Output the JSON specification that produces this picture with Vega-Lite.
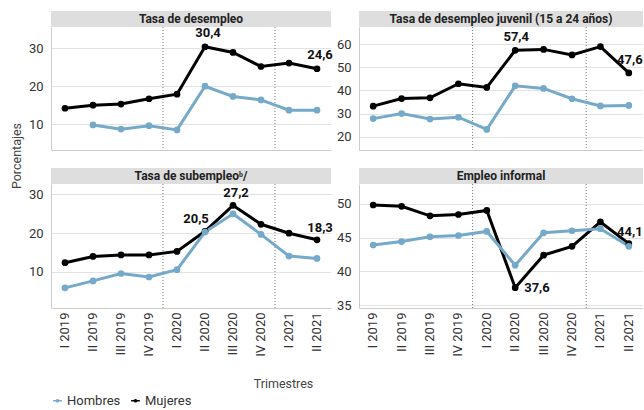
{
  "$schema": "https://vega.github.io/schema/vega-lite/v6.json",
  "padding": {"left": 10, "top": 11, "right": 0, "bottom": 0},
  "background": "white",
  "title": {"text": "Porcentajes", "orient": "left", "anchor": "end", "dx": -112, "fontSize": 12.5, "fontWeight": "normal", "color": "#444444", "font": "Roboto", "offset": 3},
  "config": {
    "font": "Roboto",
    "view": {"stroke": null},
    "axis": {"labelFont": "Roboto", "labelFontSize": 13, "labelColor": "#333333", "gridColor": "#e2e2e2", "domainColor": "#cccccc", "ticks": false, "titleFont": "Roboto", "titleFontSize": 12.5, "titleFontWeight": "normal", "titleColor": "#444444"},
    "axisY": {"minExtent": 25, "maxExtent": 25, "labelPadding": 8, "labelOverlap": false},
    "legend": {"orient": "bottom", "direction": "horizontal", "offset": 4, "labelFont": "Roboto", "labelFontSize": 13, "labelColor": "#333333", "symbolType": "M-1,-0.16H1V0.16H-1Z M0.42,0A0.42,0.42,0,1,1,-0.42,0A0.42,0.42,0,1,1,0.42,0Z", "symbolStrokeWidth": 0, "symbolSize": 75, "columnPadding": 8, "labelOffset": 3}
  },
  "datasets": {
    "cortes": [{"trimestre": "I 2020"}, {"trimestre": "I 2021"}],
    "series": [
      {"panel": "desempleo", "sexo": "Mujeres", "trimestre": "I 2019", "valor": 14.2},
      {"panel": "desempleo", "sexo": "Mujeres", "trimestre": "II 2019", "valor": 15.0},
      {"panel": "desempleo", "sexo": "Mujeres", "trimestre": "III 2019", "valor": 15.3},
      {"panel": "desempleo", "sexo": "Mujeres", "trimestre": "IV 2019", "valor": 16.7},
      {"panel": "desempleo", "sexo": "Mujeres", "trimestre": "I 2020", "valor": 17.9},
      {"panel": "desempleo", "sexo": "Mujeres", "trimestre": "II 2020", "valor": 30.4, "etiqueta": "30,4"},
      {"panel": "desempleo", "sexo": "Mujeres", "trimestre": "III 2020", "valor": 28.9},
      {"panel": "desempleo", "sexo": "Mujeres", "trimestre": "IV 2020", "valor": 25.2},
      {"panel": "desempleo", "sexo": "Mujeres", "trimestre": "I 2021", "valor": 26.1},
      {"panel": "desempleo", "sexo": "Mujeres", "trimestre": "II 2021", "valor": 24.6, "etiqueta": "24,6"},
      {"panel": "desempleo", "sexo": "Hombres", "trimestre": "II 2019", "valor": 9.8},
      {"panel": "desempleo", "sexo": "Hombres", "trimestre": "III 2019", "valor": 8.7},
      {"panel": "desempleo", "sexo": "Hombres", "trimestre": "IV 2019", "valor": 9.6},
      {"panel": "desempleo", "sexo": "Hombres", "trimestre": "I 2020", "valor": 8.5},
      {"panel": "desempleo", "sexo": "Hombres", "trimestre": "II 2020", "valor": 20.0},
      {"panel": "desempleo", "sexo": "Hombres", "trimestre": "III 2020", "valor": 17.3},
      {"panel": "desempleo", "sexo": "Hombres", "trimestre": "IV 2020", "valor": 16.4},
      {"panel": "desempleo", "sexo": "Hombres", "trimestre": "I 2021", "valor": 13.7},
      {"panel": "desempleo", "sexo": "Hombres", "trimestre": "II 2021", "valor": 13.7},
      {"panel": "juvenil", "sexo": "Mujeres", "trimestre": "I 2019", "valor": 33.2},
      {"panel": "juvenil", "sexo": "Mujeres", "trimestre": "II 2019", "valor": 36.5},
      {"panel": "juvenil", "sexo": "Mujeres", "trimestre": "III 2019", "valor": 36.8},
      {"panel": "juvenil", "sexo": "Mujeres", "trimestre": "IV 2019", "valor": 42.9},
      {"panel": "juvenil", "sexo": "Mujeres", "trimestre": "I 2020", "valor": 41.3},
      {"panel": "juvenil", "sexo": "Mujeres", "trimestre": "II 2020", "valor": 57.4, "etiqueta": "57,4"},
      {"panel": "juvenil", "sexo": "Mujeres", "trimestre": "III 2020", "valor": 57.8},
      {"panel": "juvenil", "sexo": "Mujeres", "trimestre": "IV 2020", "valor": 55.4},
      {"panel": "juvenil", "sexo": "Mujeres", "trimestre": "I 2021", "valor": 59.0},
      {"panel": "juvenil", "sexo": "Mujeres", "trimestre": "II 2021", "valor": 47.6, "etiqueta": "47,6"},
      {"panel": "juvenil", "sexo": "Hombres", "trimestre": "I 2019", "valor": 27.8},
      {"panel": "juvenil", "sexo": "Hombres", "trimestre": "II 2019", "valor": 30.0},
      {"panel": "juvenil", "sexo": "Hombres", "trimestre": "III 2019", "valor": 27.6},
      {"panel": "juvenil", "sexo": "Hombres", "trimestre": "IV 2019", "valor": 28.4},
      {"panel": "juvenil", "sexo": "Hombres", "trimestre": "I 2020", "valor": 23.1},
      {"panel": "juvenil", "sexo": "Hombres", "trimestre": "II 2020", "valor": 42.0},
      {"panel": "juvenil", "sexo": "Hombres", "trimestre": "III 2020", "valor": 40.9},
      {"panel": "juvenil", "sexo": "Hombres", "trimestre": "IV 2020", "valor": 36.4},
      {"panel": "juvenil", "sexo": "Hombres", "trimestre": "I 2021", "valor": 33.3},
      {"panel": "juvenil", "sexo": "Hombres", "trimestre": "II 2021", "valor": 33.5},
      {"panel": "subempleo", "sexo": "Mujeres", "trimestre": "I 2019", "valor": 12.4},
      {"panel": "subempleo", "sexo": "Mujeres", "trimestre": "II 2019", "valor": 14.0},
      {"panel": "subempleo", "sexo": "Mujeres", "trimestre": "III 2019", "valor": 14.4},
      {"panel": "subempleo", "sexo": "Mujeres", "trimestre": "IV 2019", "valor": 14.4},
      {"panel": "subempleo", "sexo": "Mujeres", "trimestre": "I 2020", "valor": 15.3},
      {"panel": "subempleo", "sexo": "Mujeres", "trimestre": "II 2020", "valor": 20.5, "etiqueta": "20,5"},
      {"panel": "subempleo", "sexo": "Mujeres", "trimestre": "III 2020", "valor": 27.2, "etiqueta": "27,2"},
      {"panel": "subempleo", "sexo": "Mujeres", "trimestre": "IV 2020", "valor": 22.3},
      {"panel": "subempleo", "sexo": "Mujeres", "trimestre": "I 2021", "valor": 20.0},
      {"panel": "subempleo", "sexo": "Mujeres", "trimestre": "II 2021", "valor": 18.3, "etiqueta": "18,3"},
      {"panel": "subempleo", "sexo": "Hombres", "trimestre": "I 2019", "valor": 5.9},
      {"panel": "subempleo", "sexo": "Hombres", "trimestre": "II 2019", "valor": 7.7},
      {"panel": "subempleo", "sexo": "Hombres", "trimestre": "III 2019", "valor": 9.6},
      {"panel": "subempleo", "sexo": "Hombres", "trimestre": "IV 2019", "valor": 8.7},
      {"panel": "subempleo", "sexo": "Hombres", "trimestre": "I 2020", "valor": 10.6},
      {"panel": "subempleo", "sexo": "Hombres", "trimestre": "II 2020", "valor": 20.3},
      {"panel": "subempleo", "sexo": "Hombres", "trimestre": "III 2020", "valor": 25.0},
      {"panel": "subempleo", "sexo": "Hombres", "trimestre": "IV 2020", "valor": 19.7},
      {"panel": "subempleo", "sexo": "Hombres", "trimestre": "I 2021", "valor": 14.1},
      {"panel": "subempleo", "sexo": "Hombres", "trimestre": "II 2021", "valor": 13.5},
      {"panel": "informal", "sexo": "Mujeres", "trimestre": "I 2019", "valor": 49.8},
      {"panel": "informal", "sexo": "Mujeres", "trimestre": "II 2019", "valor": 49.6},
      {"panel": "informal", "sexo": "Mujeres", "trimestre": "III 2019", "valor": 48.2},
      {"panel": "informal", "sexo": "Mujeres", "trimestre": "IV 2019", "valor": 48.4},
      {"panel": "informal", "sexo": "Mujeres", "trimestre": "I 2020", "valor": 49.0},
      {"panel": "informal", "sexo": "Mujeres", "trimestre": "II 2020", "valor": 37.6, "etiqueta": "37,6"},
      {"panel": "informal", "sexo": "Mujeres", "trimestre": "III 2020", "valor": 42.4},
      {"panel": "informal", "sexo": "Mujeres", "trimestre": "IV 2020", "valor": 43.7},
      {"panel": "informal", "sexo": "Mujeres", "trimestre": "I 2021", "valor": 47.3},
      {"panel": "informal", "sexo": "Mujeres", "trimestre": "II 2021", "valor": 44.1, "etiqueta": "44,1"},
      {"panel": "informal", "sexo": "Hombres", "trimestre": "I 2019", "valor": 43.9},
      {"panel": "informal", "sexo": "Hombres", "trimestre": "II 2019", "valor": 44.4},
      {"panel": "informal", "sexo": "Hombres", "trimestre": "III 2019", "valor": 45.1},
      {"panel": "informal", "sexo": "Hombres", "trimestre": "IV 2019", "valor": 45.3},
      {"panel": "informal", "sexo": "Hombres", "trimestre": "I 2020", "valor": 45.9},
      {"panel": "informal", "sexo": "Hombres", "trimestre": "II 2020", "valor": 40.9},
      {"panel": "informal", "sexo": "Hombres", "trimestre": "III 2020", "valor": 45.7},
      {"panel": "informal", "sexo": "Hombres", "trimestre": "IV 2020", "valor": 46.0},
      {"panel": "informal", "sexo": "Hombres", "trimestre": "I 2021", "valor": 46.3},
      {"panel": "informal", "sexo": "Hombres", "trimestre": "II 2021", "valor": 43.7}
    ]
  },
  "columns": 2,
  "spacing": {"row": 17, "column": 1},
  "concat": [
    {
      "bounds": "flush",
      "spacing": 0,
      "vconcat": [
        {"data": {"values": [{"titulo": "Tasa de desempleo"}]}, "width": 280, "height": 16, "view": {"fill": "#dedede", "stroke": null}, "mark": {"type": "text", "fontWeight": "bold", "fontSize": 12, "color": "#222222"}, "encoding": {"text": {"field": "titulo"}}},
        {
          "width": 280, "height": 123,
          "layer": [
            {"data": {"name": "cortes"}, "mark": {"type": "rule", "strokeDash": [1, 2], "color": "#777777", "strokeWidth": 1},
             "encoding": {"x": {"field": "trimestre", "type": "ordinal", "bandPosition": 0, "sort": null, "scale": {"type": "band", "paddingInner": 0, "paddingOuter": 0, "domain": ["I 2019","II 2019","III 2019","IV 2019","I 2020","II 2020","III 2020","IV 2020","I 2021","II 2021"]}, "axis": {"labels": false, "title": null, "grid": false}}}},
            {"data": {"name": "series"}, "transform": [{"filter": "datum.panel == 'desempleo'"}],
             "mark": {"type": "line", "strokeWidth": 3, "point": {"filled": true, "size": 45}},
             "encoding": {
               "x": {"field": "trimestre", "type": "ordinal", "bandPosition": 0.5, "sort": null, "scale": {"type": "band", "paddingInner": 0, "paddingOuter": 0, "domain": ["I 2019","II 2019","III 2019","IV 2019","I 2020","II 2020","III 2020","IV 2020","I 2021","II 2021"]}, "axis": {"labels": false, "title": null, "grid": false}},
               "y": {"field": "valor", "type": "quantitative", "scale": {"domain": [3.2, 35.6], "nice": false, "zero": false}, "axis": {"values": [10, 20, 30], "title": null}},
               "color": {"field": "sexo", "type": "nominal", "scale": {"domain": ["Hombres", "Mujeres"], "range": ["#74a9c9", "#000000"]}, "legend": {"title": null, "encode": {"symbols": {"update": {"fill": {"scale": "color", "field": "value"}}}}}}
             }},
            {"data": {"name": "series"}, "transform": [{"filter": "datum.panel == 'desempleo' && isValid(datum.etiqueta)"}],
             "mark": {"type": "text", "fontWeight": "bold", "fontSize": 13, "dy": -10, "dx": 3, "baseline": "alphabetic", "color": "#111111"},
             "encoding": {"x": {"field": "trimestre", "type": "ordinal", "bandPosition": 0.5}, "y": {"field": "valor", "type": "quantitative", "axis": {"values": [10, 20, 30], "title": null}}, "text": {"field": "etiqueta"}}}
          ]
        }
      ]
    },
    {
      "bounds": "flush",
      "spacing": 0,
      "vconcat": [
        {"data": {"values": [{"titulo": "Tasa de desempleo juvenil (15 a 24 años)"}]}, "width": 284, "height": 16, "view": {"fill": "#dedede", "stroke": null}, "mark": {"type": "text", "fontWeight": "bold", "fontSize": 12, "color": "#222222"}, "encoding": {"text": {"field": "titulo"}}},
        {
          "width": 284, "height": 123,
          "layer": [
            {"data": {"name": "cortes"}, "mark": {"type": "rule", "strokeDash": [1, 2], "color": "#777777", "strokeWidth": 1},
             "encoding": {"x": {"field": "trimestre", "type": "ordinal", "bandPosition": 0, "sort": null, "scale": {"type": "band", "paddingInner": 0, "paddingOuter": 0, "domain": ["I 2019","II 2019","III 2019","IV 2019","I 2020","II 2020","III 2020","IV 2020","I 2021","II 2021"]}, "axis": {"labels": false, "title": null, "grid": false}}}},
            {"data": {"name": "series"}, "transform": [{"filter": "datum.panel == 'juvenil'"}],
             "mark": {"type": "line", "strokeWidth": 3, "point": {"filled": true, "size": 45}},
             "encoding": {
               "x": {"field": "trimestre", "type": "ordinal", "bandPosition": 0.5, "sort": null, "scale": {"type": "band", "paddingInner": 0, "paddingOuter": 0, "domain": ["I 2019","II 2019","III 2019","IV 2019","I 2020","II 2020","III 2020","IV 2020","I 2021","II 2021"]}, "axis": {"labels": false, "title": null, "grid": false}},
               "y": {"field": "valor", "type": "quantitative", "scale": {"domain": [14.2, 67.5], "nice": false, "zero": false}, "axis": {"values": [20, 30, 40, 50, 60], "title": null}},
               "color": {"field": "sexo", "type": "nominal", "scale": {"domain": ["Hombres", "Mujeres"], "range": ["#74a9c9", "#000000"]}, "legend": {"title": null, "encode": {"symbols": {"update": {"fill": {"scale": "color", "field": "value"}}}}}}
             }},
            {"data": {"name": "series"}, "transform": [{"filter": "datum.panel == 'juvenil' && isValid(datum.etiqueta)"}],
             "mark": {"type": "text", "fontWeight": "bold", "fontSize": 13, "dy": -9, "dx": 1, "baseline": "alphabetic", "color": "#111111"},
             "encoding": {"x": {"field": "trimestre", "type": "ordinal", "bandPosition": 0.5}, "y": {"field": "valor", "type": "quantitative", "axis": {"values": [20, 30, 40, 50, 60], "title": null}}, "text": {"field": "etiqueta"}}}
          ]
        }
      ]
    },
    {
      "bounds": "flush",
      "spacing": 0,
      "vconcat": [
        {"data": {"values": [{"titulo": "Tasa de subempleoᵇ/"}]}, "width": 280, "height": 16, "view": {"fill": "#dedede", "stroke": null}, "mark": {"type": "text", "fontWeight": "bold", "fontSize": 12, "color": "#222222"}, "encoding": {"text": {"field": "titulo"}}},
        {
          "width": 280, "height": 124,
          "layer": [
            {"data": {"name": "cortes"}, "mark": {"type": "rule", "strokeDash": [1, 2], "color": "#777777", "strokeWidth": 1},
             "encoding": {"x": {"field": "trimestre", "type": "ordinal", "bandPosition": 0, "sort": null, "scale": {"type": "band", "paddingInner": 0, "paddingOuter": 0, "domain": ["I 2019","II 2019","III 2019","IV 2019","I 2020","II 2020","III 2020","IV 2020","I 2021","II 2021"]}, "axis": {"labelAngle": -90, "title": "Trimestres", "titleX": 232, "titlePadding": 21, "grid": false, "labelPadding": 4}}}},
            {"data": {"name": "series"}, "transform": [{"filter": "datum.panel == 'subempleo'"}],
             "mark": {"type": "line", "strokeWidth": 3, "point": {"filled": true, "size": 45}},
             "encoding": {
               "x": {"field": "trimestre", "type": "ordinal", "bandPosition": 0.5, "sort": null, "scale": {"type": "band", "paddingInner": 0, "paddingOuter": 0, "domain": ["I 2019","II 2019","III 2019","IV 2019","I 2020","II 2020","III 2020","IV 2020","I 2021","II 2021"]}, "axis": {"labelAngle": -90, "title": "Trimestres", "titleX": 232, "titlePadding": 21, "grid": false, "labelPadding": 4}},
               "y": {"field": "valor", "type": "quantitative", "scale": {"domain": [0.7, 32.7], "nice": false, "zero": false}, "axis": {"values": [10, 20, 30], "title": null}},
               "color": {"field": "sexo", "type": "nominal", "scale": {"domain": ["Hombres", "Mujeres"], "range": ["#74a9c9", "#000000"]}, "legend": {"title": null, "encode": {"symbols": {"update": {"fill": {"scale": "color", "field": "value"}}}}}}
             }},
            {"data": {"name": "series"}, "transform": [{"filter": "datum.panel == 'subempleo' && isValid(datum.etiqueta) && datum.trimestre != 'II 2020'"}],
             "mark": {"type": "text", "fontWeight": "bold", "fontSize": 13, "dy": -8, "dx": 3, "baseline": "alphabetic", "color": "#111111"},
             "encoding": {"x": {"field": "trimestre", "type": "ordinal", "bandPosition": 0.5}, "y": {"field": "valor", "type": "quantitative", "axis": {"values": [10, 20, 30], "title": null}}, "text": {"field": "etiqueta"}}},
            {"data": {"name": "series"}, "transform": [{"filter": "datum.panel == 'subempleo' && datum.trimestre == 'II 2020' && isValid(datum.etiqueta)"}],
             "mark": {"type": "text", "fontWeight": "bold", "fontSize": 13, "dy": -8, "dx": -9, "baseline": "alphabetic", "color": "#111111"},
             "encoding": {"x": {"field": "trimestre", "type": "ordinal", "bandPosition": 0.5}, "y": {"field": "valor", "type": "quantitative", "axis": {"values": [10, 20, 30], "title": null}}, "text": {"field": "etiqueta"}}}
          ]
        }
      ]
    },
    {
      "bounds": "flush",
      "spacing": 0,
      "vconcat": [
        {"data": {"values": [{"titulo": "Empleo informal"}]}, "width": 284, "height": 16, "view": {"fill": "#dedede", "stroke": null}, "mark": {"type": "text", "fontWeight": "bold", "fontSize": 12, "color": "#222222"}, "encoding": {"text": {"field": "titulo"}}},
        {
          "width": 284, "height": 124,
          "layer": [
            {"data": {"name": "cortes"}, "mark": {"type": "rule", "strokeDash": [1, 2], "color": "#777777", "strokeWidth": 1},
             "encoding": {"x": {"field": "trimestre", "type": "ordinal", "bandPosition": 0, "sort": null, "scale": {"type": "band", "paddingInner": 0, "paddingOuter": 0, "domain": ["I 2019","II 2019","III 2019","IV 2019","I 2020","II 2020","III 2020","IV 2020","I 2021","II 2021"]}, "axis": {"labelAngle": -90, "title": null, "grid": false, "labelPadding": 4}}}},
            {"data": {"name": "series"}, "transform": [{"filter": "datum.panel == 'informal'"}],
             "mark": {"type": "line", "strokeWidth": 3, "point": {"filled": true, "size": 45}},
             "encoding": {
               "x": {"field": "trimestre", "type": "ordinal", "bandPosition": 0.5, "sort": null, "scale": {"type": "band", "paddingInner": 0, "paddingOuter": 0, "domain": ["I 2019","II 2019","III 2019","IV 2019","I 2020","II 2020","III 2020","IV 2020","I 2021","II 2021"]}, "axis": {"labelAngle": -90, "title": null, "grid": false, "labelPadding": 4}},
               "y": {"field": "valor", "type": "quantitative", "scale": {"domain": [34.6, 52.9], "nice": false, "zero": false}, "axis": {"values": [35, 40, 45, 50], "title": null}},
               "color": {"field": "sexo", "type": "nominal", "scale": {"domain": ["Hombres", "Mujeres"], "range": ["#74a9c9", "#000000"]}, "legend": {"title": null, "encode": {"symbols": {"update": {"fill": {"scale": "color", "field": "value"}}}}}}
             }},
            {"data": {"name": "series"}, "transform": [{"filter": "datum.panel == 'informal' && isValid(datum.etiqueta) && datum.trimestre != 'II 2020'"}],
             "mark": {"type": "text", "fontWeight": "bold", "fontSize": 13, "dy": -8, "dx": 1, "baseline": "alphabetic", "color": "#111111"},
             "encoding": {"x": {"field": "trimestre", "type": "ordinal", "bandPosition": 0.5}, "y": {"field": "valor", "type": "quantitative", "axis": {"values": [35, 40, 45, 50], "title": null}}, "text": {"field": "etiqueta"}}},
            {"data": {"name": "series"}, "transform": [{"filter": "datum.panel == 'informal' && datum.trimestre == 'II 2020' && isValid(datum.etiqueta)"}],
             "mark": {"type": "text", "fontWeight": "bold", "fontSize": 13, "dx": 9, "align": "left", "baseline": "middle", "color": "#111111"},
             "encoding": {"x": {"field": "trimestre", "type": "ordinal", "bandPosition": 0.5}, "y": {"field": "valor", "type": "quantitative", "axis": {"values": [35, 40, 45, 50], "title": null}}, "text": {"field": "etiqueta"}}}
          ]
        }
      ]
    }
  ]
}
